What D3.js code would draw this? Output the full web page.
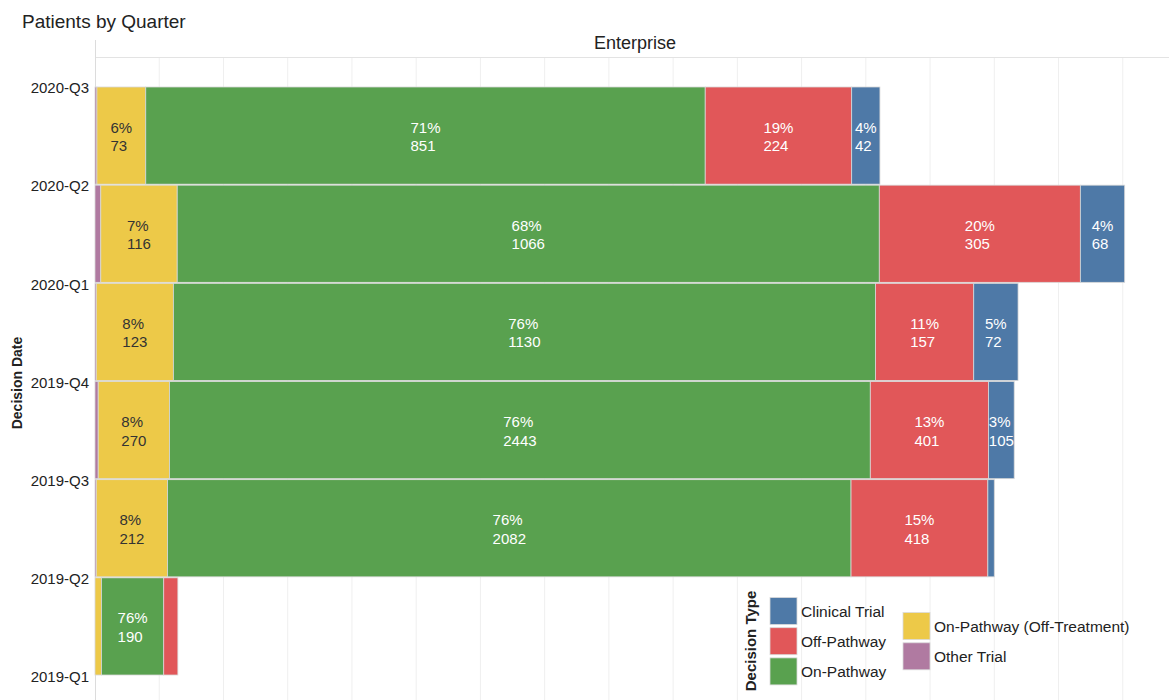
<!DOCTYPE html>
<html>
<head>
<meta charset="utf-8">
<script src="https://cdn.jsdelivr.net/npm/d3@7"></script>
<style>
  html, body { margin: 0; padding: 0; background: #fff; }
  svg { display: block; font-family: "Liberation Sans", Arial, Helvetica, sans-serif; }
</style>
</head>
<body>
<svg id="chart" width="1169" height="700"></svg>
<script>
// ---- data ----
const tickQuarters = ["2020-Q3", "2020-Q2", "2020-Q1", "2019-Q4", "2019-Q3", "2019-Q2", "2019-Q1"];
const barQuarters  = ["2020-Q3", "2020-Q2", "2020-Q1", "2019-Q4", "2019-Q3", "2019-Q2"];
const seriesNames  = ["Other Trial", "On-Pathway (Off-Treatment)", "On-Pathway", "Off-Pathway", "Clinical Trial"];
const seriesColors = ["#b07aa1", "#edc948", "#59a14f", "#e15759", "#4e79a7"];

// bar lengths along the x measure (estimated)
const otherTrialLen    = [3, 9, 2, 5, 2, 0];
const offTreatmentLen  = [76, 119, 120, 111, 111, 10];
const onPathwayLen     = [871, 1093, 1093, 1091, 1064, 97];
const offPathwayLen    = [228, 313, 153, 184, 213, 22];
const clinicalTrialLen = [44, 69, 69, 40, 10, 0];

// label texts
const offTreatmentPct  = ["6%", "7%", "8%", "8%", "8%", null];
const offTreatmentN    = [73, 116, 123, 270, 212, null];
const onPathwayPct     = ["71%", "68%", "76%", "76%", "76%", "76%"];
const onPathwayN       = [851, 1066, 1130, 2443, 2082, 190];
const offPathwayPct    = ["19%", "20%", "11%", "13%", "15%", null];
const offPathwayN      = [224, 305, 157, 401, 418, null];
const clinicalTrialPct = ["4%", "4%", "5%", "3%", null, null];
const clinicalTrialN   = [42, 68, 72, 105, null, null];

const lengths = [otherTrialLen, offTreatmentLen, onPathwayLen, offPathwayLen, clinicalTrialLen];
const pcts    = [null, offTreatmentPct, onPathwayPct, offPathwayPct, clinicalTrialPct];
const counts  = [null, offTreatmentN, onPathwayN, offPathwayN, clinicalTrialN];
const textColors = ["#fff", "#333", "#fff", "#fff", "#fff"];

const xTicks = d3.range(100, 1700, 100);

// ---- layout ----
const svg = d3.select("#chart");
const plotLeft = 95, plotRight = 1169, plotTop = 57, plotBottom = 700;

const x = d3.scaleLinear().domain([0, 1672]).range([plotLeft, plotRight]);
const y = d3.scalePoint().domain(tickQuarters).range([88, 677]);
const step = y.step();

// title
svg.append("text").attr("x", 22).attr("y", 28)
  .attr("font-size", 19).attr("fill", "#222").text("Patients by Quarter");
svg.append("text").attr("x", 635).attr("y", 49).attr("text-anchor", "middle")
  .attr("font-size", 18).attr("fill", "#222").text("Enterprise");

// gridlines
svg.append("g").selectAll("line").data(xTicks).join("line")
  .attr("x1", d => x(d)).attr("x2", d => x(d))
  .attr("y1", plotTop).attr("y2", plotBottom)
  .attr("stroke", "#efefef").attr("stroke-width", 1);

// header line and axis line
svg.append("line").attr("x1", plotLeft).attr("x2", plotRight).attr("y1", plotTop + 0.5).attr("y2", plotTop + 0.5)
  .attr("stroke", "#e3e3e3");
svg.append("line").attr("x1", plotLeft + 0.5).attr("x2", plotLeft + 0.5).attr("y1", 40).attr("y2", plotBottom)
  .attr("stroke", "#dcdcdc");

// y axis labels
const yAxis = d3.axisLeft(y).tickSize(0).tickPadding(6);
const gy = svg.append("g").attr("transform", `translate(${plotLeft},0)`).call(yAxis);
gy.select(".domain").remove();
gy.selectAll("text").attr("font-size", 15).attr("fill", "#222")
  .attr("font-family", "Liberation Sans, Arial, sans-serif");

svg.append("text")
  .attr("transform", "translate(22,383) rotate(-90)")
  .attr("text-anchor", "middle").attr("font-size", 14).attr("font-weight", "bold")
  .attr("fill", "#222").text("Decision Date");

// stacked bars
const stackData = barQuarters.map((q, i) => {
  const o = { q, i };
  seriesNames.forEach((s, k) => o[s] = lengths[k][i]);
  return o;
});
const stacked = d3.stack().keys(seriesNames)(stackData);

const gBars = svg.append("g");
stacked.forEach((layer, k) => {
  layer.forEach((seg, i) => {
    const w = x(seg[1]) - x(seg[0]);
    if (w <= 0) return;
    const y0 = y(barQuarters[i]) - 1;
    gBars.append("rect")
      .attr("x", x(seg[0])).attr("y", y0)
      .attr("width", w).attr("height", step - 1)
      .attr("fill", seriesColors[k])
      .attr("stroke", "#d8d8d8").attr("stroke-width", 0.8);
  });
});

// labels
const gLab = svg.append("g");
stacked.forEach((layer, k) => {
  if (!pcts[k]) return;
  layer.forEach((seg, i) => {
    const p = pcts[k][i], n = counts[k][i];
    if (p == null) return;
    const cx = (x(seg[0]) + x(seg[1])) / 2;
    const mid = y(barQuarters[i]) - 1 + (step - 1) / 2;
    const g = gLab.append("g");
    const t1 = g.append("text").attr("y", mid - 3).text(p);
    const t2 = g.append("text").attr("y", mid + 15.5).text(n);
    g.selectAll("text").attr("font-size", 15).attr("fill", textColors[k]);
    const wMax = Math.max(t1.node().getComputedTextLength(), t2.node().getComputedTextLength());
    g.selectAll("text").attr("x", cx - wMax / 2);
  });
});

// legend
const legend = svg.append("g");
legend.append("text")
  .attr("transform", "translate(756,641) rotate(-90)")
  .attr("text-anchor", "middle").attr("font-size", 15).attr("font-weight", "bold")
  .attr("fill", "#222").text("Decision Type");

const legendItems = [
  { name: "Clinical Trial", col: 0, row: 0 },
  { name: "Off-Pathway", col: 0, row: 1 },
  { name: "On-Pathway", col: 0, row: 2 },
  { name: "On-Pathway (Off-Treatment)", col: 1, row: 0.5 },
  { name: "Other Trial", col: 1, row: 1.5 }
];
legendItems.forEach(it => {
  const k = seriesNames.indexOf(it.name);
  const lx = it.col === 0 ? 770 : 903;
  const ly = 597.5 + it.row * 30.2;
  legend.append("rect").attr("x", lx).attr("y", ly).attr("width", 27).attr("height", 27)
    .attr("fill", seriesColors[k]).attr("stroke", "#dadada").attr("stroke-width", 0.8);
  legend.append("text").attr("x", lx + 31).attr("y", ly + 19)
    .attr("font-size", 15.5).attr("fill", "#222").text(it.name);
});
</script>
</body>
</html>
